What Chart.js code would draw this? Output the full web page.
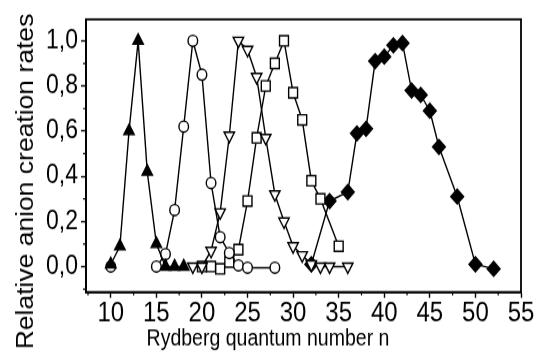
<!DOCTYPE html>
<html>
<head>
<meta charset="utf-8">
<script src="https://cdn.jsdelivr.net/npm/chart.js@4"></script>
<style>
  html, body { margin: 0; padding: 0; background: #fff; overflow: hidden; width: 535px; height: 357px; }
  #wrap { width: 535px; height: 310px; transform: scaleY(1.1516); transform-origin: 0 0; }
</style>
</head>
<body>
<div id="wrap"><canvas id="chart" width="535" height="310"></canvas></div>
<script>
// tick labels
const xTicks = [10, 15, 20, 25, 30, 35, 40, 45, 50, 55];
const yTicks = [0, 0.2, 0.4, 0.6, 0.8, 1.0];

// filled triangles
const nTri = [10, 11, 12, 13, 14, 15, 16, 17, 18];
const rateTri = [0.01, 0.09, 0.60, 1.00, 0.42, 0.10, 0.00, 0.00, 0.00];

// open circles (null = break in the line)
const nCirc = [10, 12, 15, 16, 17, 18, 19, 20, 21, 22, 23, 24, 25, 28];
const rateCirc = [0.00, null, 0.00, 0.055, 0.25, 0.62, 1.00, 0.85, 0.37, 0.13, 0.06, 0.005, -0.005, -0.005];

// open down triangles
const nTriDown = [19, 20, 21, 22, 23, 24, 25, 26, 27, 28, 29, 30, 31, 32, 33, 34, 36];
const rateTriDown = [0.00, 0.00, 0.07, 0.24, 0.58, 1.00, 0.96, 0.84, 0.57, 0.32, 0.20, 0.09, 0.05, 0.01, 0.00, 0.00, 0.00];

// open squares
const nSq = [20, 21, 22, 23, 24, 25, 26, 27, 28, 29, 30, 31, 32, 33, 35];
const rateSq = [0.00, 0.00, -0.01, 0.02, 0.075, 0.29, 0.57, 0.80, 0.90, 1.00, 0.77, 0.65, 0.38, 0.30, 0.09];

// filled diamonds
const nDia = [32, 34, 36, 37, 38, 39, 40, 41, 42, 43, 44, 45, 46, 48, 50, 52];
const rateDia = [0.01, 0.29, 0.33, 0.59, 0.61, 0.91, 0.93, 0.98, 0.99, 0.78, 0.76, 0.69, 0.53, 0.31, 0.01, -0.01];

const FONT = "'Liberation Sans', Arial, sans-serif";

function pts(xs, ys) {
  return xs.map((n, i) => ({ x: n, y: ys[i] }));
}

function series(xs, ys, style, radius, fill, rotation) {
  return {
    data: pts(xs, ys),
    borderColor: '#000',
    borderWidth: 1.4,
    pointStyle: style,
    pointRadius: radius,
    pointRotation: rotation || 0,
    pointBackgroundColor: fill,
    pointBorderColor: '#000',
    pointBorderWidth: 1.4,
    spanGaps: false,
    tension: 0
  };
}

// frame, minor ticks and axis titles
const extras = {
  id: 'extras',
  afterDraw(chart) {
    const { ctx, chartArea: a, scales: { x, y } } = chart;
    ctx.save();
    ctx.strokeStyle = '#000';
    ctx.lineWidth = 1.8;
    ctx.strokeRect(a.left, a.top, a.right - a.left, a.bottom - a.top);

    ctx.lineWidth = 1.2;
    ctx.beginPath();
    for (let i = 0; i < xTicks.length; i++) {
      const px = x.getPixelForValue(xTicks[i] - 2.5);
      ctx.moveTo(px, a.bottom);
      ctx.lineTo(px, a.bottom + 3);
    }
    for (let i = 0; i < yTicks.length; i++) {
      const py = y.getPixelForValue(yTicks[i] - 0.1);
      ctx.moveTo(a.left, py);
      ctx.lineTo(a.left - 3, py);
    }
    ctx.stroke();

    ctx.fillStyle = '#000';
    ctx.textAlign = 'center';
    ctx.textBaseline = 'alphabetic';
    ctx.font = '19.5px ' + FONT;
    ctx.fillText('Rydberg quantum number n', 268, 300);

    ctx.translate(33, 157.6);
    ctx.rotate(-Math.PI / 2);
    ctx.font = '23px ' + FONT;
    ctx.fillText('Relative anion creation rates', 0, 0);
    ctx.restore();
  }
};

new Chart(document.getElementById('chart'), {
  type: 'line',
  data: {
    datasets: [
      series(nTri, rateTri, 'triangle', 6, '#000'),
      series(nCirc, rateCirc, 'circle', 4.8, '#fff'),
      series(nTriDown, rateTriDown, 'triangle', 6, '#fff', 180),
      series(nSq, rateSq, 'rect', 6.3, '#fff'),
      series(nDia, rateDia, 'rectRot', 6.4, '#000')
    ]
  },
  options: {
    responsive: false,
    animation: false,
    layout: { padding: { top: 11.3, right: 14, left: 0, bottom: 0 } },
    plugins: { legend: { display: false }, tooltip: { enabled: false } },
    scales: {
      x: {
        type: 'linear',
        min: 7.28,
        max: 55,
        afterBuildTicks: s => { s.ticks = xTicks.map(v => ({ value: v })); },
        afterFit: s => { s.height = 56.4; },
        ticks: {
          color: '#000',
          font: { family: FONT, size: 24 },
          padding: -0.5,
          maxRotation: 0,
          callback: v => String(v)
        },
        grid: { drawOnChartArea: false, color: '#000', tickLength: 5, tickWidth: 1.4 },
        border: { color: '#000', width: 1.8 }
      },
      y: {
        min: -0.113,
        max: 1.095,
        afterBuildTicks: s => { s.ticks = yTicks.map(v => ({ value: v })); },
        afterFit: s => { s.width = 86; },
        ticks: {
          color: '#000',
          font: { family: FONT, size: 23 },
          padding: 3,
          callback: v => v.toFixed(1).replace('.', ',')
        },
        grid: { drawOnChartArea: false, color: '#000', tickLength: 5, tickWidth: 1.4 },
        border: { color: '#000', width: 1.8 }
      }
    }
  },
  plugins: [extras]
});
</script>
</body>
</html>
